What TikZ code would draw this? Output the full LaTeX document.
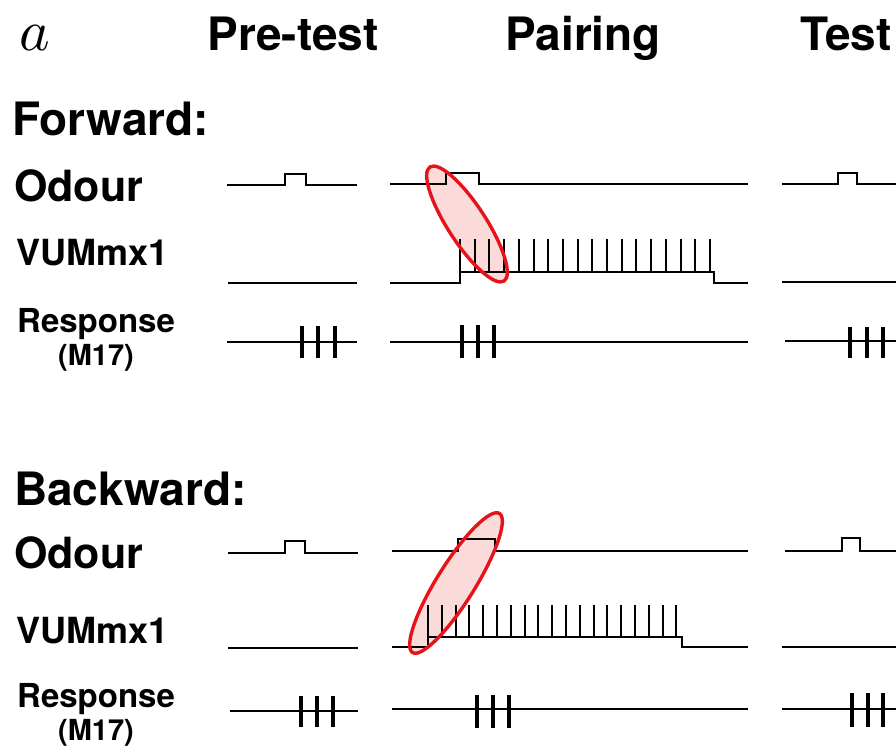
\documentclass[tikz,border=0pt]{standalone}
\usepackage{fontspec}
\setmainfont{TeX Gyre Heros}
\usetikzlibrary{shapes.geometric}
\definecolor{hired}{HTML}{E5141B}
\definecolor{hipink}{HTML}{FBDADA}
\tikzset{
  trace/.style={line width=2.8pt, line cap=butt, line join=miter},
  thin trace/.style={line width=2.2pt, line join=miter},
  spk/.style={line width=3.2pt},
  vspk/.style={line width=2pt},
  lab/.style={anchor=base west, inner sep=0pt, font=\bfseries\fontsize{43}{43}\selectfont},
  big/.style={anchor=base west, inner sep=0pt, font=\bfseries\fontsize{46}{46}\selectfont},
  head/.style={anchor=base, inner sep=0pt, font=\bfseries\fontsize{46}{46}\selectfont},
  small/.style={anchor=base west, inner sep=0pt, font=\bfseries\fontsize{36}{36}\selectfont},
  resp/.style={anchor=base west, inner sep=0pt, font=\bfseries\fontsize{33}{33}\selectfont},
  mlab/.style={anchor=base, inner sep=0pt, font=\bfseries\fontsize{29}{29}\selectfont},
  hl/.style={ellipse, inner sep=0pt},
}
\begin{document}
\begin{tikzpicture}[x=1pt,y=-1pt]
\useasboundingbox (0,0) rectangle (896,747);
% headings
\node[anchor=base west, inner sep=0pt] (lbla) at (19,50) {\scalebox{5.8}{$a$}};
\node[head] (hpre) at (293,50) {Pre-test};
\node[head] (hpair) at (583,50) {Pairing};
\node[head] (htest) at (846,50) {Test};
% row labels
\node[big] (fwd) at (12,135) {Forward:};
\node[lab] (fod) at (14,201) {Odour};
\node[small] (fvum) at (16,265) {VUMmx1};
\node[resp] (fresp) at (17,332) {Response};
\node[mlab] (fm) at (96,365) {(M17)};
\node[big] (bwd) at (14,505) {Backward:};
\node[lab] (bod) at (14,568) {Odour};
\node[small] (bvum) at (16,643) {VUMmx1};
\node[resp] (bresp) at (17,707) {Response};
\node[mlab] (bm) at (96,740) {(M17)};

% highlight fills
\node[hl, fill=hipink, minimum width=136pt, minimum height=38pt, rotate=-57] (ef) at (467,224) {};
\node[hl, fill=hipink, minimum width=164pt, minimum height=38pt, rotate=58] (eb) at (456,583) {};

% ===== Forward =====
% odour
\draw[trace] (227,185) -- (285,185) -- (285,174) -- (306,174) -- (306,185) -- (357,185);
\draw[thin trace] (390,184) -- (446,184) -- (446,173) -- (479,173) -- (479,184) -- (748,184);
\draw[trace] (782,184) -- (838,184) -- (838,173) -- (857,173) -- (857,184) -- (896,184);
% VUMmx1
\draw[trace] (228,283) -- (357,283);
\draw[thin trace] (390,283) -- (460,283) -- (460,239) -- (460,272) -- (714,272) -- (714,283) -- (748,283);
\foreach \i in {1,...,17} \draw[vspk] ({460+\i*14.7},272) -- ({460+\i*14.7},239);
\draw[trace] (782,282) -- (896,282);
% response
\draw[trace] (227,342) -- (357,342);
\foreach \x in {302,318,335} \draw[spk] (\x,326) -- (\x,358);
\draw[thin trace] (390,342) -- (748,342);
\foreach \x in {462,478,494} \draw[spk] (\x,325) -- (\x,358);
\draw[trace] (785,341) -- (896,341);
\foreach \x in {850,867,883} \draw[spk] (\x,327) -- (\x,358);

% ===== Backward =====
% odour
\draw[trace] (228,553) -- (285,553) -- (285,541) -- (305,541) -- (305,553) -- (358,553);
\draw[thin trace] (392,551) -- (458,551) -- (458,539) -- (495,539) -- (495,551) -- (748,551);
\draw[trace] (785,551) -- (842,551) -- (842,538) -- (860,538) -- (860,551) -- (896,551);
% VUMmx1
\draw[trace] (228,648) -- (358,648);
\draw[thin trace] (392,647) -- (428,647) -- (428,605) -- (428,637) -- (682,637) -- (682,647) -- (748,647);
\foreach \i in {1,...,18} \draw[vspk] ({428+\i*13.8},637) -- ({428+\i*13.8},605);
\draw[trace] (782,647) -- (896,647);
% response
\draw[trace] (230,711) -- (358,711);
\foreach \x in {301,317,333} \draw[spk] (\x,696) -- (\x,727);
\draw[thin trace] (392,709) -- (748,709);
\foreach \x in {477,493,509} \draw[spk] (\x,695) -- (\x,728);
\draw[trace] (782,709) -- (896,709);
\foreach \x in {852,868,883} \draw[spk] (\x,693) -- (\x,727);

% highlight outlines
\node[hl, draw=hired, line width=3.4pt, minimum width=136pt, minimum height=38pt, rotate=-57] (efo) at (ef) {};
\node[hl, draw=hired, line width=3.4pt, minimum width=164pt, minimum height=38pt, rotate=58] (ebo) at (eb) {};
\end{tikzpicture}
\end{document}
